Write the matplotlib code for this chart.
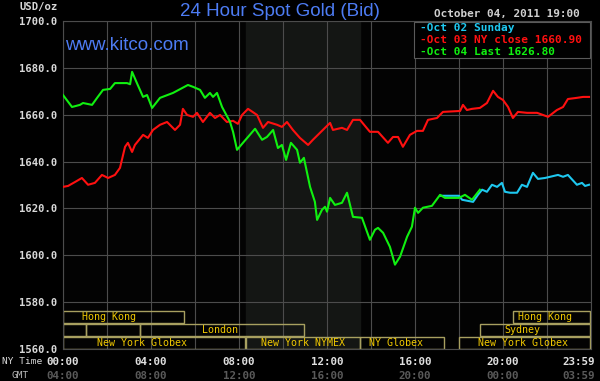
import matplotlib
matplotlib.use("Agg")
import matplotlib.pyplot as plt
import matplotlib.transforms as mtransforms
from matplotlib.patches import Rectangle

# ---- data (NY time in hours, price in USD/oz) ----
oct04_hours = [0.00, 0.41, 0.77, 0.91, 1.32, 1.55, 1.82, 2.14, 2.36, 2.91, 3.05, 3.14, 3.36,
               3.64, 3.82, 4.05, 4.41, 5.00, 5.68, 5.91, 6.23, 6.45, 6.68, 6.82, 7.00, 7.23,
               7.59, 7.73, 7.91, 8.18, 8.41, 8.73, 9.05, 9.27, 9.55, 9.77, 9.95, 10.14, 10.36,
               10.64, 10.77, 10.95, 11.23, 11.45, 11.55, 11.77, 11.91, 12.00, 12.14, 12.36,
               12.68, 12.91, 13.18, 13.59, 13.95, 14.18, 14.32, 14.55, 14.86, 15.09, 15.32,
               15.64, 15.86, 16.00, 16.14, 16.36, 16.77, 17.14, 17.36, 18.00, 18.27, 18.59, 18.95]
oct04_price = [1668.4, 1663.3, 1664.2, 1665.0, 1664.2, 1667.2, 1670.6, 1671.0, 1673.5, 1673.5,
               1673.0, 1678.3, 1673.5, 1667.6, 1668.4, 1662.9, 1667.2, 1669.3, 1672.7, 1671.9,
               1670.6, 1667.2, 1669.3, 1667.6, 1669.3, 1663.3, 1657.0, 1652.7, 1645.0, 1648.0,
               1650.5, 1654.0, 1649.3, 1650.5, 1653.5, 1645.8, 1647.1, 1640.7, 1648.0, 1645.0,
               1639.5, 1641.6, 1629.2, 1622.8, 1615.1, 1619.4, 1620.7, 1618.6, 1624.5, 1621.5,
               1622.4, 1626.7, 1616.4, 1616.0, 1606.6, 1610.9, 1611.7, 1609.6, 1603.6, 1596.0,
               1599.4, 1607.9, 1612.2, 1620.3, 1618.1, 1620.3, 1621.1, 1625.8, 1624.5, 1624.5,
               1625.8, 1623.7, 1628.0]

oct03_hours = [0.00, 0.23, 0.55, 0.86, 1.14, 1.45, 1.77, 2.05, 2.36, 2.59, 2.82, 2.95, 3.14,
               3.27, 3.64, 3.86, 4.09, 4.41, 4.73, 5.09, 5.32, 5.45, 5.64, 5.91, 6.09, 6.36,
               6.68, 6.91, 7.14, 7.45, 7.73, 7.95, 8.14, 8.41, 8.82, 9.09, 9.32, 9.73, 9.95,
               10.18, 10.45, 10.77, 11.14, 11.36, 11.91, 12.14, 12.27, 12.68, 12.91, 13.18,
               13.50, 13.95, 14.32, 14.77, 15.00, 15.23, 15.45, 15.77, 16.09, 16.36, 16.59,
               17.00, 17.27, 18.05, 18.18, 18.36, 18.59, 18.95, 19.27, 19.55, 19.77, 20.00,
               20.23, 20.45, 20.68, 21.09, 21.55, 22.05, 22.45, 22.73, 22.95, 23.36, 23.64, 23.91]
oct03_price = [1629.2, 1629.6, 1631.3, 1633.0, 1630.1, 1630.9, 1634.3, 1633.0, 1634.3, 1637.3,
               1646.3, 1648.0, 1644.1, 1647.1, 1651.4, 1650.1, 1653.5, 1655.7, 1656.9, 1653.5,
               1655.7, 1662.5, 1659.9, 1659.1, 1660.8, 1656.9, 1660.8, 1658.6, 1659.9, 1656.9,
               1657.4, 1656.1, 1659.9, 1662.5, 1659.9, 1654.4, 1656.9, 1655.7, 1654.8, 1656.9,
               1653.5, 1650.1, 1647.1, 1649.3, 1654.4, 1656.5, 1653.5, 1654.4, 1653.5, 1657.8,
               1657.8, 1652.7, 1652.7, 1648.0, 1650.5, 1650.5, 1646.3, 1651.4, 1653.1, 1653.1,
               1657.8, 1658.6, 1661.2, 1661.6, 1664.2, 1662.0, 1662.5, 1662.9, 1665.0, 1670.2,
               1667.6, 1666.3, 1663.3, 1658.6, 1661.2, 1660.8, 1660.8, 1659.1, 1662.0, 1663.3,
               1666.7, 1667.2, 1667.6, 1667.6]

oct02_hours = [17.14, 18.00, 18.14, 18.64, 18.86, 19.05, 19.27, 19.50, 19.73, 19.95, 20.09,
               20.32, 20.64, 20.86, 21.09, 21.36, 21.59, 21.91, 22.14, 22.50, 22.73, 22.95,
               23.36, 23.59, 23.73, 23.91]
oct02_price = [1625.4, 1625.4, 1623.7, 1622.8, 1625.8, 1628.0, 1627.1, 1630.1, 1629.2, 1630.9,
               1627.1, 1626.7, 1626.7, 1630.1, 1629.2, 1635.2, 1632.6, 1633.0, 1633.5, 1634.3,
               1633.5, 1634.3, 1630.1, 1630.9, 1629.6, 1630.1]

legend_labels = ["-Oct 02 Sunday", "-Oct 03 NY close 1660.90", "-Oct 04 Last 1626.80"]

# trading sessions: name, start, end (hours NY), row
session_names = ["Hong Kong", "", "", "London", "New York Globex", "New York NYMEX",
                 "NY Globex", "New York Globex", "Sydney", "Hong Kong"]
session_start = [0, 0, 1.05, 3.5, 0, 8.33, 13.5, 18.0, 18.95, 20.45]
session_end = [5.5, 1.05, 3.5, 10.95, 8.27, 13.5, 17.3, 23.95, 23.95, 23.95]
session_row = [2, 1, 1, 1, 0, 0, 0, 0, 1, 2]
session_label_x = [2.09, 0, 0, 7.14, 3.6, 10.9, 15.14, 20.9, 20.9, 21.9]

nymex_open, nymex_close = 8.33, 13.5

ny_ticks = [0, 4, 8, 12, 16, 20, 23.45]
ny_labels = ["00:00", "04:00", "08:00", "12:00", "16:00", "20:00", "23:59"]
gmt_labels = ["04:00", "08:00", "12:00", "16:00", "20:00", "00:00", "03:59"]
price_ticks = [1560, 1580, 1600, 1620, 1640, 1660, 1680, 1700]

# ---- plotting ----
W, H = 600, 381
fig = plt.figure(figsize=(6, 3.81), dpi=100, facecolor="black")
ax = fig.add_axes([63 / W, 1 - 349 / H, 528 / W, 328 / H], facecolor="#030303")


def px(x, y):
    return x / W, 1 - y / H


mono = "DejaVu Sans Mono"
grid_c = "#4c4c4c"

ax.set_xlim(0, 24)
ax.set_ylim(1560, 1700)
ax.axvspan(nymex_open, nymex_close, color="#141614", zorder=0)
for h in range(0, 25, 2):
    ax.axvline(h, color=grid_c, lw=0.8, zorder=1)
for p in price_ticks:
    ax.axhline(p, color=grid_c, lw=0.8, zorder=1)
for s in ax.spines.values():
    s.set_color(grid_c)
    s.set_linewidth(0.8)

ax.plot(oct03_hours, oct03_price, color="#ff1010", lw=1.5, zorder=3)
ax.plot(oct02_hours, oct02_price, color="#1ec8f0", lw=1.5, zorder=3)
ax.plot(oct04_hours, oct04_price, color="#10f010", lw=1.5, zorder=4)

# y ticks
ax.set_yticks(price_ticks)
ax.set_yticklabels([f"{p:.1f}" for p in price_ticks], fontfamily=mono,
                   fontweight="bold", fontsize=7.6, color="#d8d8d8")
ax.tick_params(axis="y", length=0, pad=4)
ax.set_xticks([])

# session bars
trans = mtransforms.blended_transform_factory(ax.transData, ax.transAxes)
row_h = 12.4 / 328
for name, s0, s1, r, lx in zip(session_names, session_start, session_end,
                               session_row, session_label_x):
    y0 = r * (row_h + 0.5 / 328)
    ax.add_patch(Rectangle((s0, y0), s1 - s0, row_h, transform=trans, fill=False,
                           edgecolor="#a8a060", lw=1.0, zorder=2))
    if name:
        ax.text(lx, y0 + row_h / 2, name, transform=trans, ha="center", va="center",
                fontfamily=mono, fontsize=7.2, color="#f0c800", zorder=5)

# x labels
for xt, lab, g in zip(ny_ticks, ny_labels, gmt_labels):
    ax.text(xt, -0.04, lab, transform=trans, ha="center", va="center", fontfamily=mono,
            fontweight="bold", fontsize=7.8, color="#e0e0e0")
    ax.text(xt, -0.082, g, transform=trans, ha="center", va="center", fontfamily=mono,
            fontweight="bold", fontsize=7.8, color="#5a5a5a")
fig.text(*px(2, 362), "NY Time", ha="left", va="center", fontfamily=mono,
         fontsize=6.8, color="#d8d8d8")
fig.text(*px(20, 375), "GMT", ha="center", va="center", fontfamily=mono,
         fontsize=6.8, color="#b8b8b8")

# titles
fig.text(*px(58, 7), "USD/oz", ha="right", va="center", fontfamily=mono,
         fontweight="bold", fontsize=7.6, color="#d8d8d8")
fig.text(*px(280, 11), "24 Hour Spot Gold (Bid)", ha="center", va="center",
         fontfamily="Liberation Sans", fontsize=13.5, color="#4d7cf4")
fig.text(*px(65, 46), "www.kitco.com", ha="left", va="center",
         fontfamily="Liberation Sans", fontsize=13.5, color="#4d7cf4")
fig.text(*px(580, 14), "October 04, 2011 19:00", ha="right", va="center",
         fontfamily=mono, fontweight="bold", fontsize=7.9, color="#d0d0d0")

# legend box
lx0, ly0 = px(414, 58)
lx1, ly1 = px(590, 22)
fig.patches.append(Rectangle((lx0, ly0), lx1 - lx0, ly1 - ly0, transform=fig.transFigure,
                             facecolor="black", edgecolor="#5a5a5a", lw=0.8, zorder=10))
for lab, c, yy in zip(legend_labels, ["#1ec8f0", "#ff1010", "#10f010"], [28, 40, 52]):
    fig.text(*px(420, yy), lab, ha="left", va="center", fontfamily=mono, fontweight="bold",
             fontsize=8, color=c, zorder=11)

fig.savefig("out.png", dpi=100, facecolor="black")
